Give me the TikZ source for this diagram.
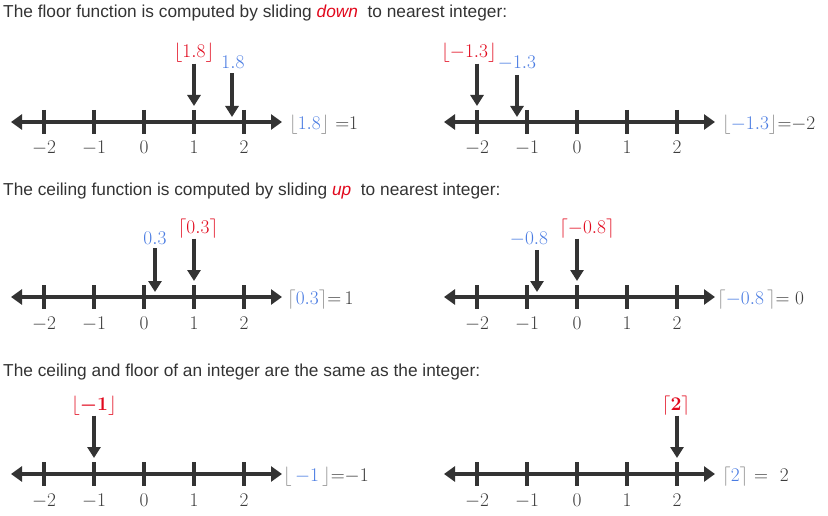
\documentclass[tikz,border=0pt]{standalone}
\usepackage{amsmath}
\usepackage{fontspec}
\newfontfamily\headfont{Liberation Sans}
\usepackage{tikz}
\usetikzlibrary{arrows.meta, positioning}

\definecolor{axisgray}{RGB}{51,51,51}
\definecolor{labgray}{RGB}{60,60,60}
\definecolor{brgray}{RGB}{140,140,140}
\definecolor{valblue}{RGB}{74,124,226}
\definecolor{valred}{RGB}{225,8,28}

\begin{document}
\begin{tikzpicture}[x=1pt,y=-1pt,
  heading/.style={anchor=base west,inner sep=0pt,text=axisgray,font=\headfont\fontsize{17.3}{20}\selectfont},
  axisline/.style={line width=4.5pt,draw=axisgray,{Triangle[length=11pt,width=15pt]}-{Triangle[length=11pt,width=15pt]}},
  tickmark/.style={line width=3.5pt,draw=axisgray},
  mathlab/.style={scale=1.12,font=\LARGE},
  ticklab/.style={mathlab,anchor=base,inner sep=0pt,text=labgray},
  pointer/.style={line width=4pt,draw=axisgray,-{Triangle[length=11pt,width=13pt]}},
  redlab/.style={mathlab,anchor=base,inner sep=0.5pt,text=valred},
  bluelab/.style={mathlab,anchor=base,inner sep=3.5pt,text=valblue},
  result/.style={mathlab,anchor=base west,inner sep=0pt,text=labgray}]
  \useasboundingbox (0,0) rectangle (828,516);

  % headings
  \node[heading] (h1) at (3,18) {The floor function is computed by sliding {\color{valred}\itshape down}\ \ to nearest integer:};
  \node[heading] (h2) at (3,196) {The ceiling function is computed by sliding {\color{valred}\itshape up}\ \ to nearest integer:};
  \node[heading] (h3) at (3,376) {The ceiling and floor of an integer are the same as the integer:};

  % the six number lines
  \foreach \ox/\oy in {144/122, 577/122, 144/297, 577/297, 144/474, 577/474} {
    \begin{scope}[shift={(\ox,\oy)}]
      \draw[axisline] (-133,0) -- (138,0);
      \foreach \k in {-2,...,2} {
        \draw[tickmark] (50*\k,-12) -- (50*\k,12);
        \node[ticklab] (tk-\ox-\oy-\k) at (50*\k,32) {$\k$};
      }
    \end{scope}
  }

  % floor of 1.8
  \begin{scope}[shift={(144,122)}]
    \coordinate (fa) at (50,-16);
    \coordinate (fb) at (88,-5);
    \node[redlab] (falab) at (50,-64) {$\lfloor 1.8\rfloor$};
    \node[bluelab] (fblab) at (89,-53) {$1.8$};
    \node[result] (fres) at (145,7.5) {${\color{brgray}\lfloor}{\color{valblue}1.8}{\color{brgray}\rfloor}\ {=}1$};
    \draw[pointer] (falab.south -| fa) -- (fa);
    \draw[pointer] (fblab.south -| fb) -- (fb);
  \end{scope}

  % floor of -1.3
  \begin{scope}[shift={(577,122)}]
    \coordinate (ga) at (-100,-16);
    \coordinate (gb) at (-60,-5);
    \node[redlab] (galab) at (-108,-64) {$\lfloor -1.3\rfloor$};
    \node[bluelab] (gblab) at (-60,-53) {$-1.3$};
    \node[result] (gres) at (145,7.5) {${\color{brgray}\lfloor}{\color{valblue}-1.3}{\color{brgray}\rfloor}{=}{-2}$};
    \draw[pointer] (galab.south -| ga) -- (ga);
    \draw[pointer] (gblab.south -| gb) -- (gb);
  \end{scope}

  % ceiling of 0.3
  \begin{scope}[shift={(144,297)}]
    \coordinate (ca) at (50,-16);
    \coordinate (cb) at (11,-5);
    \node[redlab] (calab) at (54,-64) {$\lceil 0.3\rceil$};
    \node[bluelab] (cblab) at (11,-53) {$0.3$};
    \node[result] (cres) at (143,7.5) {${\color{brgray}\lceil}{\color{valblue}0.3}{\color{brgray}\rceil}{=}\,1$};
    \draw[pointer] (calab.south -| ca) -- (ca);
    \draw[pointer] (cblab.south -| cb) -- (cb);
  \end{scope}

  % ceiling of -0.8
  \begin{scope}[shift={(577,297)}]
    \coordinate (da) at (0,-16);
    \coordinate (db) at (-40,-5);
    \node[redlab] (dalab) at (10,-64) {$\lceil -0.8\rceil$};
    \node[bluelab] (dblab) at (-48,-53) {$-0.8$};
    \node[result] (dres) at (140,7.5) {${\color{brgray}\lceil}{\color{valblue}-0.8}\,{\color{brgray}\rceil}{=}\;0$};
    \draw[pointer] (dalab.south -| da) -- (da);
    \draw[pointer] (dblab.south -| db) -- (db);
  \end{scope}

  % integers
  \begin{scope}[shift={(144,474)}]
    \coordinate (ea) at (-50,-16);
    \node[redlab] (ealab) at (-50,-64) {$\lfloor\mbox{\boldmath$-1$}\rfloor$};
    \node[result] (eres) at (139,7.5) {${\color{brgray}\lfloor}\,{\color{valblue}-1}\,{\color{brgray}\rfloor}{=}{-1}$};
    \draw[pointer] (ealab.south -| ea) -- (ea);
  \end{scope}
  \begin{scope}[shift={(577,474)}]
    \coordinate (ka) at (100,-16);
    \node[redlab] (kalab) at (99,-64) {$\lceil\mbox{\boldmath$2$}\rceil$};
    \node[result] (kres) at (145,7.5) {${\color{brgray}\lceil}{\color{valblue}2}{\color{brgray}\rceil}\ {=}\ \ 2$};
    \draw[pointer] (kalab.south -| ka) -- (ka);
  \end{scope}
\end{tikzpicture}
\end{document}
